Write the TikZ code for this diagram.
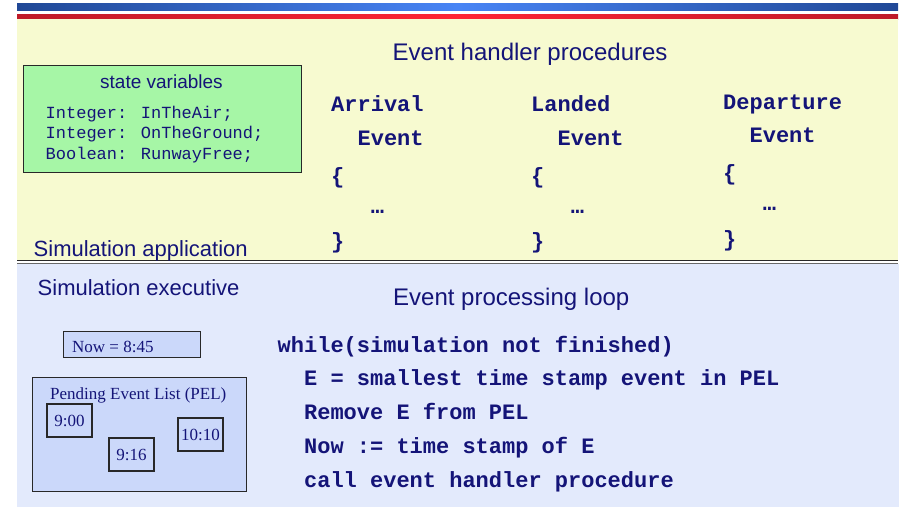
\documentclass[tikz,border=0pt]{standalone}
\usepackage{fontspec}
\setmainfont{Liberation Sans}
\newfontfamily\codefont{Liberation Mono}
\newfontfamily\serifface{Liberation Serif}

\definecolor{ink}{RGB}{20,20,120}
\definecolor{paleyellow}{RGB}{247,250,208}
\definecolor{paleblue}{RGB}{227,234,252}
\definecolor{varsgreen}{RGB}{166,246,166}
\definecolor{boxblue}{RGB}{203,216,250}
\definecolor{boxline}{RGB}{40,40,40}
\definecolor{bardark}{RGB}{32,72,150}
\definecolor{barlight}{RGB}{72,132,245}
\definecolor{reddark}{RGB}{190,26,40}
\definecolor{redlight}{RGB}{255,36,52}

\tikzset{
  txt/.style={inner sep=0pt, anchor=base west, text=ink},
  headsans/.style={txt, font=\fontsize{24}{28}\selectfont},
  labelsans/.style={txt, font=\fontsize{22}{26}\selectfont},
  varhead/.style={txt, font=\fontsize{19}{23}\selectfont},
  codeline/.style={txt, font=\codefont\bfseries\fontsize{22}{26}\selectfont},
  varline/.style={txt, font=\codefont\fontsize{17}{20}\selectfont},
  seriftxt/.style={txt, font=\serifface\fontsize{17}{20}\selectfont},
  panelbox/.style={draw=boxline, line width=1.2pt, fill=boxblue, inner sep=0pt, anchor=north west},
  timebox/.style={panelbox, anchor=center, text=ink, font=\serifface\fontsize{17}{20}\selectfont,
                  minimum width=45pt, minimum height=33pt},
}

\begin{document}
\begin{tikzpicture}[x=1pt, y=-1pt]
  \useasboundingbox (0,0) rectangle (902,507);
  \fill[white] (0,0) rectangle (902,507);

  % title bars
  \shade[left color=bardark, right color=bardark, middle color=barlight] (17,3.3) rectangle (898,10.7);
  \shade[left color=reddark, right color=reddark, middle color=redlight] (17,14) rectangle (898,19);

  % application and executive panels
  \fill[paleyellow] (17,19) rectangle (898,260);
  \fill[paleblue] (17,263.5) rectangle (899,507);
  \draw[boxline, line width=1.4pt] (17,260.5) -- (898,260.5);
  \draw[boxline!70, line width=0.8pt] (17,263) -- (898,263);

  % ---- simulation application ----
  \node[headsans] (ehp) at (392.5,60) {Event handler procedures};

  \node[draw=boxline, line width=1.2pt, fill=varsgreen, inner sep=0pt, anchor=north west,
        minimum width=278pt, minimum height=107.3pt] (vars) at (23,64.7) {};
  \node[varhead] (varstitle) at (100,88) {state variables};
  \node[varline] (v1) at (45.5,118) {Integer: InTheAir;};
  \node[varline] (v2) at (45.5,138.7) {Integer: OnTheGround;};
  \node[varline] (v3) at (45.5,159) {Boolean: RunwayFree;};

  \node[labelsans] (app) at (33.5,256) {Simulation application};

  % handler columns
  \node[codeline] (arrA) at (331,111.5) {Arrival};
  \node[codeline] (arrB) at (357.4,145) {Event};
  \node[codeline] (arrC) at (331,183) {\{};
  \node[codeline] (arrD) at (370.6,213) {…};
  \node[codeline] (arrE) at (331,248) {\}};

  \node[codeline] (lanA) at (531,111.5) {Landed};
  \node[codeline] (lanB) at (557.4,145) {Event};
  \node[codeline] (lanC) at (531,183) {\{};
  \node[codeline] (lanD) at (570.6,213) {…};
  \node[codeline] (lanE) at (531,248) {\}};

  \node[codeline] (depA) at (723,109) {Departure};
  \node[codeline] (depB) at (749.4,142.5) {Event};
  \node[codeline] (depC) at (723,180.5) {\{};
  \node[codeline] (depD) at (762.6,210.5) {…};
  \node[codeline] (depE) at (723,246) {\}};

  % ---- simulation executive ----
  \node[labelsans] (exec) at (37.5,295) {Simulation executive};
  \node[headsans] (epl) at (393,305) {Event processing loop};

  \node[panelbox, minimum width=137pt, minimum height=26pt] (nowbox) at (63,331) {};
  \node[seriftxt] (now) at (72,352.5) {Now = 8:45};

  \node[panelbox, minimum width=214pt, minimum height=114pt] (pel) at (32,377) {};
  \node[seriftxt] (peltitle) at (50,399) {Pending Event List (PEL)};
  \node[timebox] (t1) at (69.5,420.5) {9:00};
  \node[timebox] (t2) at (131.5,454.5) {9:16};
  \node[timebox] (t3) at (200.5,434.5) {10:10};

  \node[codeline] (l1) at (277.5,352) {while(simulation not finished)};
  \node[codeline] (l2) at (303.9,385.5) {E = smallest time stamp event in PEL};
  \node[codeline] (l3) at (303.9,419.5) {Remove E from PEL};
  \node[codeline] (l4) at (303.9,453) {Now := time stamp of E};
  \node[codeline] (l5) at (303.9,487) {call event handler procedure};
\end{tikzpicture}
\end{document}
